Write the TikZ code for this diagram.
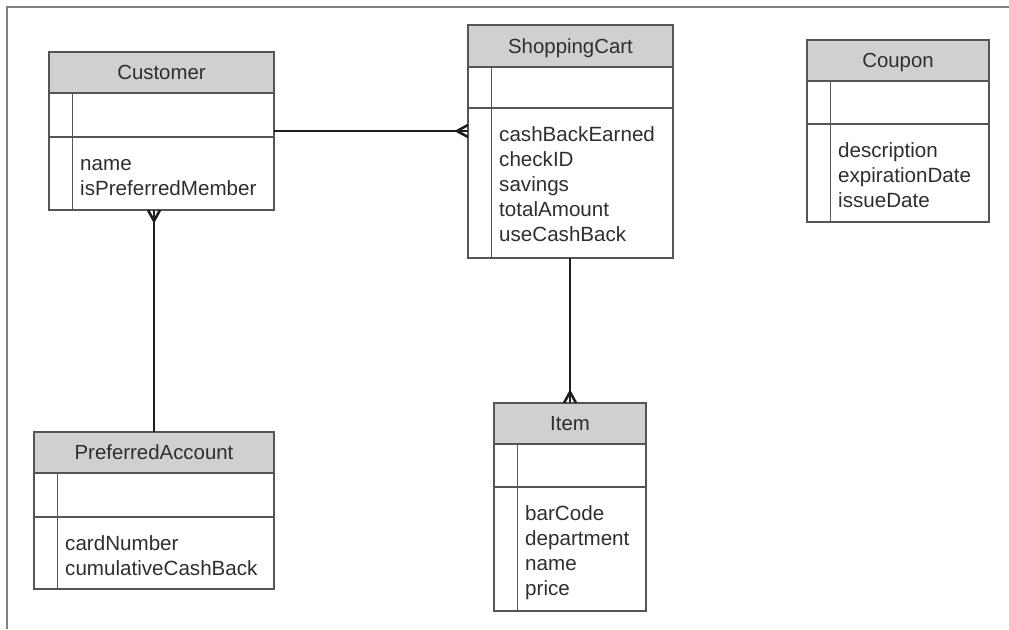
\documentclass[tikz,border=0pt]{standalone}
\usepackage{fontspec}
\setmainfont{Liberation Sans}
\usetikzlibrary{calc}
\definecolor{hdrgray}{HTML}{D0D0D0}
\definecolor{boxgray}{HTML}{555555}
\definecolor{txtgray}{HTML}{2E2E2E}
\definecolor{framegray}{HTML}{808080}
\definecolor{conncol}{HTML}{1E1E1E}
\tikzset{
  boxline/.style={draw=boxgray, line width=1.2pt},
  hdrfill/.style={fill=hdrgray},
  titletext/.style={font=\fontsize{20.4}{25}\selectfont, text=txtgray, inner sep=0pt, anchor=base},
  attrtext/.style={font=\fontsize{20.6}{25}\selectfont, text=txtgray, inner sep=0pt, anchor=base west},
  conn/.style={draw=conncol, line width=2.6pt},
  framel/.style={draw=framegray, line width=1.5pt},
  classbox/.style={anchor=north west, inner sep=0pt, outer sep=0pt},
}
% #1 name, #2 x, #3 y, #4 width, #5 header h, #6 comp1 h, #7 comp2 h, #8 title, #9 attributes
\newcommand\umlclass[9]{%
  \node[classbox, minimum width=#4pt, minimum height={(#5+#6+#7)*1pt}] (#1) at (#2,#3) {};
  \fill[hdrfill] (#1.north west) rectangle ([yshift=-#5pt]#1.north east);
  \draw[boxline] ([yshift=-#5pt]#1.north west) -- ([yshift=-#5pt]#1.north east);
  \draw[boxline] ([yshift={-(#5+#6)*1pt}]#1.north west) -- ([yshift={-(#5+#6)*1pt}]#1.north east);
  \draw[boxline] ([xshift=23.5pt,yshift=-#5pt]#1.north west) -- ([xshift=23.5pt]#1.south west);
  \draw[boxline] (#1.north west) rectangle (#1.south east);
  \node[titletext] (#1-title) at ([yshift={-(#5/2+7.3)*1pt}]#1.north) {#8};
  \foreach \attrline [count=\i] in {#9} {
    \node[attrtext] (#1-attr\i) at ([xshift=31pt, yshift={-(#5+#6+33+(\i-1)*25)*1pt}]#1.north west) {\attrline};
  }%
}
\begin{document}
\begin{tikzpicture}[x=1pt, y=-1pt]
  \useasboundingbox (0,0) rectangle (1009,629);
  % outer frame
  \coordinate (frBL) at (7,629);
  \coordinate (frTL) at (7,7);
  \coordinate (frTR) at (1009,7);
  \draw[framel] (frBL) -- (frTL) -- (frTR);

  \umlclass{cust}{49}{52}{225}{41}{44}{73}{Customer}{name,isPreferredMember}
  \umlclass{cart}{468}{25}{205}{42}{41}{150}{ShoppingCart}{cashBackEarned,checkID,savings,totalAmount,useCashBack}
  \umlclass{coupon}{807}{40}{182}{41}{43}{98}{Coupon}{description,expirationDate,issueDate}
  \umlclass{pa}{34}{432}{240}{41}{44}{72}{PreferredAccount}{cardNumber,cumulativeCashBack}
  \umlclass{item}{494}{403}{152}{41}{43}{124}{Item}{barCode,department,name,price}

  % Customer -- ShoppingCart (many at cart)
  \coordinate (cfCart) at (cust.east -| cart.west);
  \draw[conn] (cust.east) -- (cfCart);
  \draw[conn] ($(cfCart)+(-11,0)$) -- ($(cfCart)+(0,-6)$)
              ($(cfCart)+(-11,0)$) -- ($(cfCart)+(0,6)$);

  % Customer -- PreferredAccount (many at customer)
  \coordinate (cfCust) at (pa.north |- cust.south);
  \draw[conn] (pa.north) -- (cfCust);
  \draw[conn] ($(cfCust)+(0,11)$) -- ($(cfCust)+(-6,0)$)
              ($(cfCust)+(0,11)$) -- ($(cfCust)+(6,0)$);

  % ShoppingCart -- Item (many at item)
  \coordinate (cfItem) at (item.north);
  \draw[conn] (cfItem) -- (item.north |- cart.south);
  \draw[conn] ($(cfItem)+(0,-11)$) -- ($(cfItem)+(-6,0)$)
              ($(cfItem)+(0,-11)$) -- ($(cfItem)+(6,0)$);
\end{tikzpicture}
\end{document}
